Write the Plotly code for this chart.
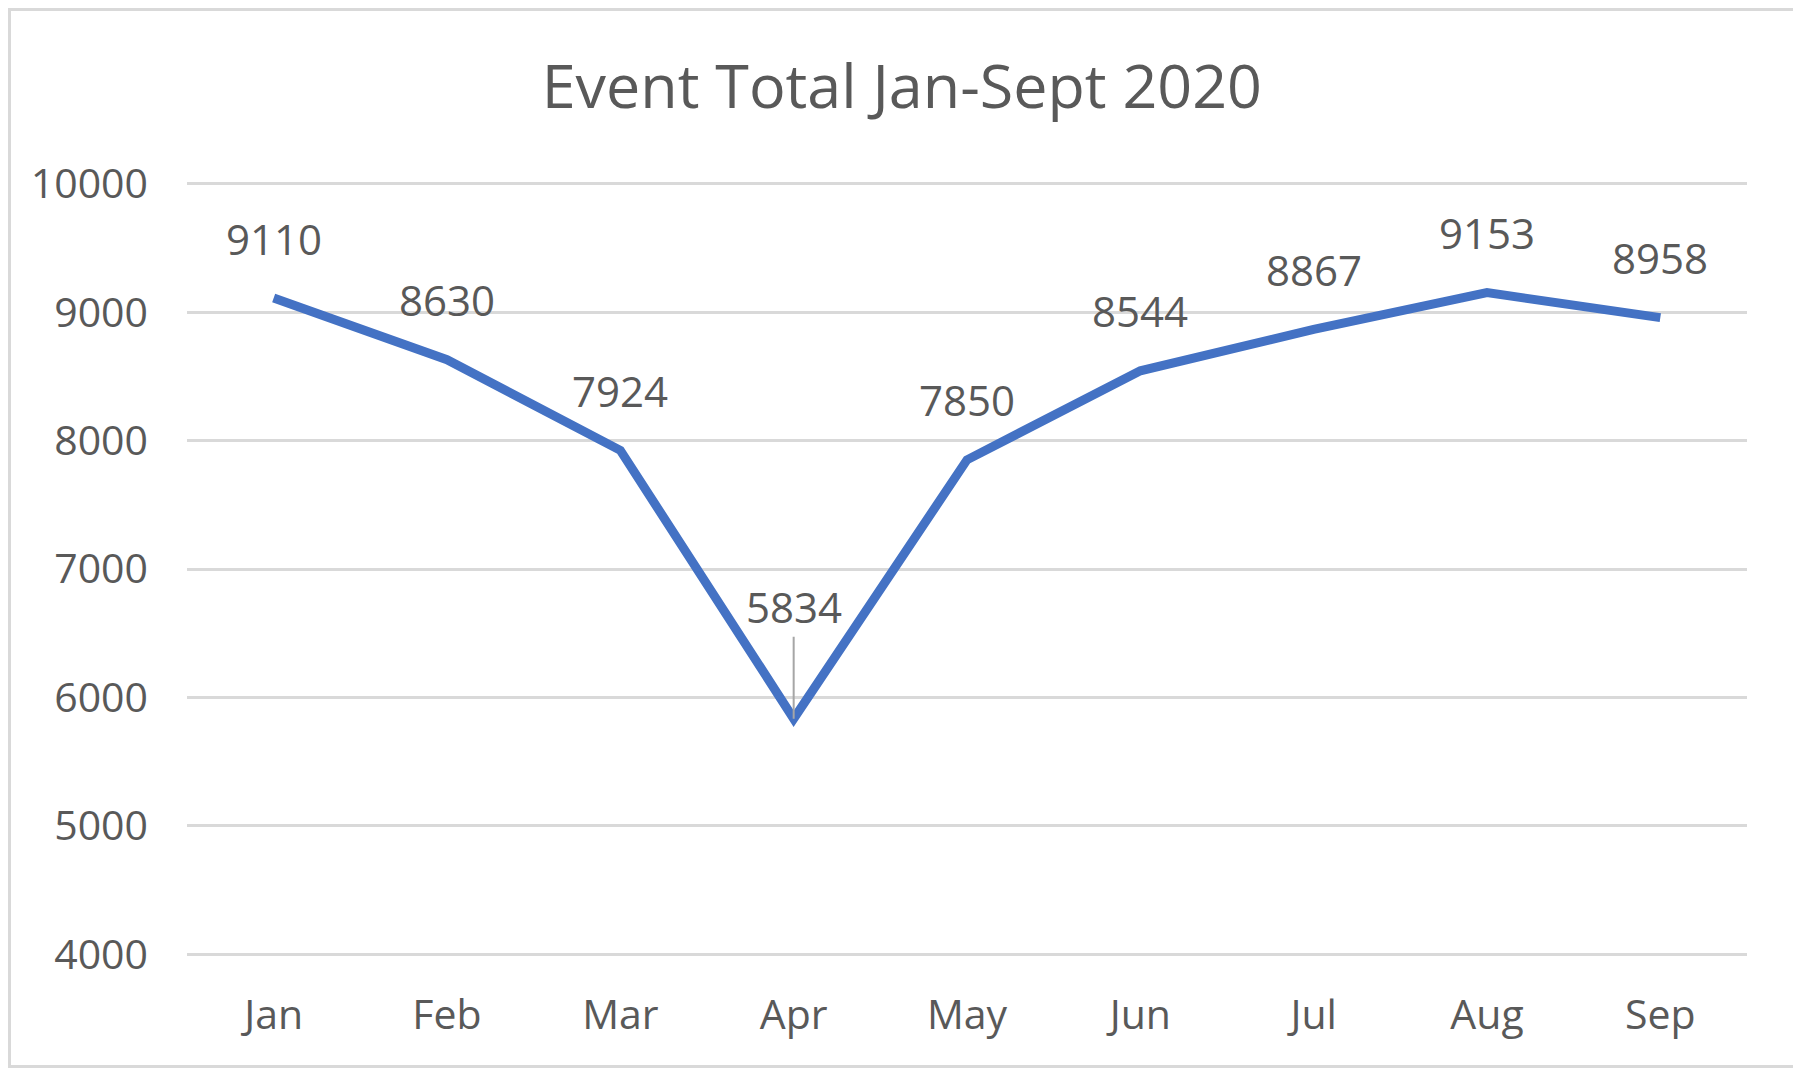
import plotly.graph_objects as go

# dados do gráfico
meses = ['Jan', 'Feb', 'Mar', 'Apr', 'May', 'Jun', 'Jul', 'Aug', 'Sep']
totais = [9110, 8630, 7924, 5834, 7850, 8544, 8867, 9153, 8958]
ticks_y = [4000, 5000, 6000, 7000, 8000, 9000, 10000]

# a página tem 8px de margem no body: a figura é menor e deslocada
W, H = 1793, 1060
ML, MR, MT, MB = 179, 54, 172, 110
cor_texto = '#595959'
fonte = 'Open Sans, Noto Sans, sans-serif'

fig = go.Figure()

fig.add_trace(go.Scatter(
    x=meses,
    y=totais,
    mode='lines',
    line=dict(color='#4472C4', width=9),
    hoverinfo='x+y',
    showlegend=False
))

# rótulos de dados acima dos pontos (Apr com linha de chamada)
for mes, valor in zip(meses, totais):
    if mes == 'Apr':
        fig.add_annotation(
            x=mes, y=valor, text=str(valor),
            showarrow=True, ax=0, ay=-112,
            arrowhead=0, arrowwidth=2, arrowcolor='#a6a6a6',
            standoff=0, startstandoff=0,
            font=dict(size=42, color=cor_texto, family=fonte)
        )
    else:
        fig.add_annotation(
            x=mes, y=valor, text=str(valor),
            showarrow=False, yshift=60,
            font=dict(size=42, color=cor_texto, family=fonte)
        )

# borda do gráfico
pw = W - ML - MR
ph = H - MT - MB
fig.add_shape(
    type='rect', xref='paper', yref='paper',
    x0=-(ML - 1.5) / pw, x1=1 + (MR - 1.5) / pw,
    y0=-(MB - 1.5) / ph, y1=1 + (MT - 1.5) / ph,
    line=dict(color='#d9d9d9', width=3),
    layer='below'
)

fig.update_layout(
    width=W,
    height=H,
    margin=dict(l=ML, r=MR, t=MT, b=MB),
    paper_bgcolor='white',
    plot_bgcolor='white',
    title=dict(
        text='Event Total Jan-Sept 2020',
        x=0.4985, xref='container', xanchor='center',
        y=1 - 79 / H, yanchor='middle',
        font=dict(size=61, color=cor_texto, family=fonte)
    ),
    font=dict(family=fonte, color=cor_texto),
    xaxis=dict(
        type='category',
        range=[-0.5, 8.5],
        showgrid=False,
        showline=False,
        zeroline=False,
        tickfont=dict(size=41, color=cor_texto),
        ticklabelstandoff=29
    ),
    yaxis=dict(
        range=[3970, 10030],
        tickvals=ticks_y,
        ticktext=[str(t) for t in ticks_y],
        showgrid=True,
        gridcolor='#d9d9d9',
        gridwidth=3,
        zeroline=False,
        showline=False,
        tickfont=dict(size=41, color=cor_texto),
        ticklabelstandoff=38
    )
)

fig.write_html("out.html")
